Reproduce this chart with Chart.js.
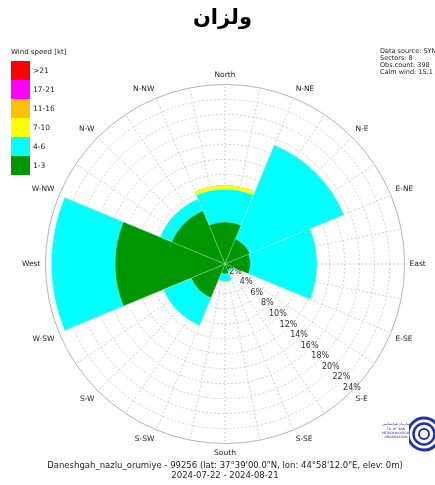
<!DOCTYPE html>
<html>
<head>
<meta charset="utf-8">
<script src="https://cdn.jsdelivr.net/npm/chart.js@4"></script>
<style>
  body { margin: 0; background: #fff; }
  #wrap { position: relative; width: 435px; height: 485px; overflow: hidden; font-family: "DejaVu Sans", sans-serif; }
  #chartBox { position: absolute; left: 0; top: 0; width: 435px; height: 485px; }
  .title { position: absolute; left: 0; width: 445px; top: 5px; text-align: center; font: bold 21px "DejaVu Sans", sans-serif; color: #000; }
  .title span { unicode-bidi: bidi-override; direction: ltr; }
  .legend { position: absolute; left: 11px; top: 48px; font-size: 7.5px; color: #222; }
  .legend .head { margin-bottom: 5px; font-size: 7px; }
  .legend .row { height: 19px; display: flex; align-items: center; }
  .legend .box { width: 19px; height: 19px; margin-right: 3px; }
  .info { position: absolute; left: 380px; top: 48px; font-size: 6.5px; line-height: 7px; color: #222; white-space: nowrap; }
  .foot { position: absolute; left: 0; width: 450px; top: 460px; text-align: center; font-size: 8.5px; line-height: 10px; color: #222; }
  .logo { position: absolute; left: 382px; top: 412px; }
</style>
</head>
<body>
<div id="wrap">
  <div id="chartBox"><canvas id="rose"></canvas></div>
  <div class="title"><span>نازلو</span></div>
  <div class="legend" id="legend"><div class="head">Wind speed [kt]</div></div>
  <div class="info">Data source: SYNOP<br>Sectors: 8<br>Obs.count: 398<br>Calm wind: 15.1 %</div>
  <div class="foot">Daneshgah_nazlu_orumiye - 99256 (lat: 37°39'00.0"N, lon: 44°58'12.0"E, elev: 0m)<br>2024-07-22 - 2024-08-21</div>
  <svg class="logo" width="53" height="44" viewBox="0 0 53 44">
    <g fill="none" stroke="#2233aa">
      <circle cx="42" cy="22" r="16" stroke-width="3"/>
      <circle cx="42" cy="22" r="10.5" stroke-width="2.5"/>
      <circle cx="42" cy="22" r="5" stroke-width="2"/>
    </g>
    <rect x="0" y="8" width="27" height="24" fill="#fff"/>
    <text x="14" y="13" font-size="3.5" fill="#2233aa" text-anchor="middle">سازمان هواشناسی</text>
    <text x="14" y="18" font-size="3" fill="#2233aa" text-anchor="middle">I.R. OF IRAN</text>
    <text x="14" y="22" font-size="3" fill="#2233aa" text-anchor="middle">METEOROLOGICAL</text>
    <text x="14" y="26" font-size="3" fill="#2233aa" text-anchor="middle">ORGANIZATION</text>
  </svg>
</div>
<script>
// sectors start at North and go clockwise, 45 degrees each
const sectors = ['N', 'NE', 'E', 'SE', 'S', 'SW', 'W', 'NW'];

// frequency (%) per speed class
const speed1to3 = [5.6, 3.6, 3.4, 0.9, 1.3, 4.9, 14.7, 7.7];
const speed4to6 = [4.4, 13.6, 8.9, 0.3, 1.0, 4.0, 8.5, 1.7];
const speed7to10 = [0.5, 0, 0, 0, 0, 0, 0, 0];
const speed11to16 = [0, 0, 0, 0, 0, 0, 0, 0];
const speed17to21 = [0, 0, 0, 0, 0, 0, 0, 0];
const speedOver21 = [0, 0, 0, 0, 0, 0, 0, 0];

const classNames = ['1-3', '4-6', '7-10', '11-16', '17-21', '>21'];
const classColors = ['#009600', '#00ffff', '#ffff00', '#ffc000', '#ff00ff', '#ff0000'];

// 32 spokes, starting at N-NW (337.5 deg) so sectors line up with the scale
const dirLabels = ['N-NW', '', 'North', '', 'N-NE', '', 'N-E', '', 'E-NE', '', 'East', '', 'E-SE', '',
  'S-E', '', 'S-SE', '', 'South', '', 'S-SW', '', 'S-W', '', 'W-SW', '', 'West', '', 'W-NW', '', 'N-W', ''];

const tickValues = [2, 4, 6, 8, 10, 12, 14, 16, 18, 20, 22, 24];

// legend, top item is the strongest class
const leg = document.getElementById('legend');
for (let i = classNames.length - 1; i >= 0; i--) {
  const row = document.createElement('div');
  row.className = 'row';
  row.innerHTML = '<div class="box" style="background:' + classColors[i] + '"></div>' + classNames[i];
  leg.appendChild(row);
}

// stack by cumulative sums, smallest drawn on top
const classes = [speed1to3, speed4to6, speed7to10, speed11to16, speed17to21, speedOver21];
let running = sectors.map(() => 0);
const datasets = classes.map((vals, i) => {
  running = running.map((r, k) => r + vals[k]);
  return {
    label: classNames[i],
    data: running.slice(),
    backgroundColor: classColors[i],
    borderColor: 'rgba(255,255,255,0.4)',
    borderWidth: 0.6
  };
});

const tickLabelPlugin = {
  id: 'tickLabels',
  afterDatasetsDraw(chart) {
    const s = chart.scales.r;
    const c = chart.ctx;
    const a = 135 * Math.PI / 180;
    c.save();
    c.font = '8px "DejaVu Sans"';
    c.fillStyle = '#333';
    c.textAlign = 'center';
    c.textBaseline = 'bottom';
    tickValues.forEach(v => {
      const d = s.getDistanceFromCenterForValue(v);
      c.fillText(v + '%', s.xCenter + d * Math.sin(a), s.yCenter - d * Math.cos(a) + 1);
    });
    c.restore();
  }
};

new Chart(document.getElementById('rose'), {
  type: 'polarArea',
  data: { labels: dirLabels, datasets: datasets },
  options: {
    responsive: true,
    maintainAspectRatio: false,
    animation: false,
    layout: { padding: { left: 21, right: 8, top: 67, bottom: 23 } },
    plugins: { legend: { display: false }, tooltip: { enabled: false } },
    scales: {
      r: {
        min: 0,
        max: 24,
        startAngle: -22.5,
        ticks: { display: false, stepSize: 2 },
        grid: {
          circular: true,
          color: ctx => ctx.tick && ctx.tick.value === 24 ? '#a0a0a0' : '#c4c4c4',
          lineWidth: 0.8
        },
        border: { dash: ctx => ctx.tick && ctx.tick.value === 24 ? [] : [2, 2] },
        angleLines: { display: true, color: '#c4c4c4', lineWidth: 0.8, borderDash: [2, 2] },
        pointLabels: {
          display: true,
          padding: 5,
          color: '#222',
          font: { size: 7.5, family: 'DejaVu Sans' }
        }
      }
    }
  },
  plugins: [tickLabelPlugin]
});
</script>
</body>
</html>
